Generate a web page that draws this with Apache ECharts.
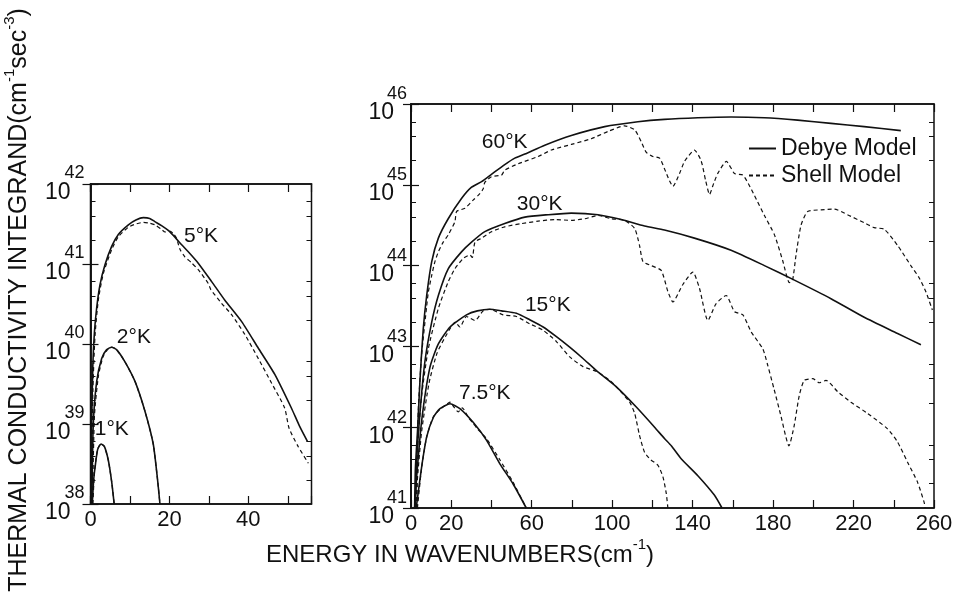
<!DOCTYPE html>
<html><head><meta charset="utf-8">
<script src="https://cdn.jsdelivr.net/npm/echarts@6/dist/echarts.min.js"></script>
<style>html,body{margin:0;padding:0;background:#fff}#c{width:957px;height:602px}</style>
</head><body><div id="c"></div>
<script>
// ---- DATA: [wavenumber (cm^-1), log10(integrand)] ----
// Left panel (low temperatures)
const debye5K = [[0.1,38.0],[0.3,39.0],[0.6,39.75],[1.0,40.15],[1.56,40.45],[2.4,40.74],[3.67,40.99],[5.36,41.22],[7.05,41.37],[9.6,41.49],[11.5,41.55],[13.4,41.58],[15,41.57],[16.3,41.53],[18,41.48],[19.7,41.42],[21.5,41.33],[23.1,41.24],[25,41.14],[27.3,41.01],[30.7,40.78],[34,40.55],[38.3,40.28],[42.5,39.95],[46.7,39.62],[50.9,39.2],[53,38.97],[55,38.78]];
const shell5K = [[0.3,38.0],[0.6,39.4],[1.14,40.1],[1.98,40.55],[3.25,40.88],[5.36,41.18],[7.05,41.34],[9.6,41.46],[11.5,41.5],[13.4,41.52],[15,41.51],[16.3,41.49],[17.8,41.44],[18.9,41.4],[20.1,41.41],[21.0,41.38],[21.8,41.32],[22.7,41.18],[23.9,41.09],[25.5,41.02],[27.3,40.93],[29.8,40.76],[30.5,40.68],[33.2,40.51],[35.7,40.37],[39.1,40.12],[42.5,39.82],[45.9,39.51],[49.2,39.2],[50.3,38.95],[52.6,38.72],[55.2,38.51]];
const debye2K = [[0.35,38.0],[0.7,38.99],[1.56,39.53],[2.83,39.82],[4.1,39.93],[5.36,39.96],[6.6,39.93],[8.7,39.78],[11.3,39.53],[13.8,39.16],[15.9,38.75],[17.0,38.3],[17.6,38.0]];
const shell2K = [[0.5,38.0],[1.0,39.1],[2.0,39.6],[3.25,39.85],[4.5,39.94],[5.36,39.96],[6.6,39.93],[8.7,39.78],[11.3,39.53],[13.8,39.16],[15.9,38.75],[17.0,38.3],[17.6,38.0]];
const debye1K = [[0.45,38.0],[0.8,38.3],[1.14,38.45],[1.8,38.68],[2.66,38.75],[3.5,38.72],[4.5,38.55],[5.36,38.28],[6.0,38.0]];
const shell1K = [[0.6,38.0],[1.0,38.4],[1.5,38.6],[2.0,38.71],[2.66,38.75],[3.5,38.72],[4.5,38.55],[5.36,38.28],[6.0,38.0]];
// Right panel (higher temperatures)
const debye60K = [[1.8,41.0],[2.2,41.5],[3.3,41.98],[4.5,42.6],[6.1,43.22],[7.8,43.63],[10.3,44.05],[13.6,44.34],[18.5,44.58],[25.1,44.83],[30.1,44.97],[35.1,45.04],[40,45.13],[46.6,45.25],[51.6,45.33],[56.6,45.38],[66.5,45.49],[79.7,45.61],[96.3,45.72],[112.8,45.78],[126,45.81],[142.6,45.83],[159.1,45.84],[175.7,45.83],[192.2,45.8],[208.8,45.76],[225.3,45.72],[243.5,45.67]];
const shell60K = [[2.5,41.0],[3.6,42.2],[5.3,42.9],[7.8,43.5],[8.6,43.67],[10.3,43.88],[11.9,44.05],[13.6,44.17],[16,44.29],[18.5,44.38],[21.8,44.54],[22.7,44.67],[26.8,44.71],[30.9,44.81],[34.2,44.89],[35.9,44.95],[36.7,45.03],[40,45.1],[45,45.12],[46.6,45.18],[53.3,45.26],[63.2,45.35],[69.8,45.43],[79.7,45.5],[89.6,45.57],[97.9,45.66],[106.2,45.73],[111.2,45.68],[114.5,45.53],[117,45.4],[120.2,45.35],[123.6,45.33],[126,45.2],[128.5,45.05],[130.2,44.98],[133.5,45.14],[136,45.29],[140.9,45.43],[144.2,45.3],[146.5,45.05],[148.4,44.88],[150.5,45.02],[152.5,45.14],[156.8,45.29],[160.8,45.14],[165,45.12],[168,45.0],[170.7,44.87],[175.7,44.62],[180.7,44.38],[184.8,44.06],[188.1,43.79],[189.7,43.82],[191.4,44.13],[193.9,44.5],[197.2,44.67],[203.8,44.69],[210.4,44.7],[217,44.63],[225.3,44.53],[230.3,44.47],[235.3,44.45],[241.9,44.25],[248.5,44.0],[252.6,43.85],[255.9,43.68],[259.2,43.45]];
const debye30K = [[2.2,41.0],[2.8,41.57],[4.5,42.19],[6.9,42.81],[10.3,43.3],[13.6,43.63],[18.5,43.96],[25.1,44.17],[30.1,44.29],[36.7,44.42],[46.6,44.52],[56.6,44.6],[68.2,44.63],[79.7,44.65],[93,44.63],[104.5,44.57],[116.1,44.49],[126,44.44],[140.9,44.34],[159.1,44.19],[175.7,44.0],[190.6,43.82],[208.8,43.59],[225.3,43.36],[241.9,43.16],[253.5,43.02]];
const shell30K = [[3.0,41.0],[3.3,41.77],[5.3,42.39],[8.6,42.97],[13.6,43.47],[18.5,43.8],[21.8,43.96],[26,44.09],[29.3,44.13],[30.5,44.1],[31.8,44.29],[35.1,44.34],[40,44.42],[46.6,44.48],[54.9,44.52],[63.2,44.55],[71.5,44.57],[79.7,44.56],[86.4,44.58],[93,44.62],[99.6,44.58],[106.2,44.56],[111.2,44.46],[113.6,44.25],[115.3,44.05],[119.4,44.0],[124.4,43.94],[127.7,43.68],[130.2,43.55],[135,43.76],[140.1,43.92],[143.4,43.72],[147.6,43.32],[151.7,43.53],[156.7,43.63],[160.8,43.43],[165,43.39],[169.1,43.18],[174.9,42.97],[177.3,42.77],[180.4,42.48],[183.8,42.15],[187.9,41.77],[190.5,42.02],[193,42.39],[195.5,42.58],[199.7,42.6],[203,42.55],[206.3,42.58],[212.1,42.44],[218.7,42.31],[227,42.17],[236.9,41.98],[241.8,41.82],[246.8,41.57],[251.8,41.32],[255.1,41.07],[255.6,41.0]];
const debye15K = [[1.8,41.0],[2.8,41.38],[5.3,42.08],[9.4,42.74],[13.6,43.03],[19.4,43.24],[27.6,43.39],[33,43.44],[39.2,43.46],[45,43.44],[52.4,43.41],[59,43.33],[65.7,43.24],[72.3,43.12],[78.9,42.99],[85.5,42.85],[92.2,42.7],[102.1,42.5],[112,42.25],[121.1,42.0],[126,41.86],[129.4,41.77],[134.3,41.61],[142.6,41.4],[150.8,41.16],[154.6,41.0]];
const shell15K = [[2.3,41.0],[3.0,41.3],[5.3,41.95],[9,42.55],[13,42.92],[18,43.16],[22,43.3],[24.3,43.24],[27.6,43.37],[31.8,43.32],[35.9,43.44],[39.2,43.46],[45.8,43.39],[52.4,43.37],[59,43.28],[65.7,43.2],[72.3,43.06],[78.9,42.87],[85.5,42.75],[92.2,42.69],[98.8,42.58],[102.1,42.5],[108.7,42.31],[111.2,42.17],[113.6,41.9],[116.1,41.69],[119,41.6],[122.7,41.53],[125.2,41.39],[126.9,41.18],[127.7,41.0]];
const debye7K5 = [[2.6,41.0],[5.3,41.51],[7.8,41.88],[11.1,42.12],[14.4,42.23],[19.4,42.29],[24.3,42.23],[30.9,42.06],[37.5,41.84],[44.1,41.55],[50.7,41.3],[57.3,41.0]];
const shell7K5 = [[3.2,41.0],[5.3,41.5],[7.8,41.88],[11.1,42.13],[14.4,42.22],[17,42.27],[19.4,42.31],[21,42.26],[23.5,42.19],[25.5,42.24],[28.5,42.12],[30.9,42.05],[33,41.98],[37.5,41.86],[44.1,41.6],[50.7,41.32],[57.3,41.0]];

const legendNames = ['Debye Model', 'Shell Model'];
const leftXLabels = [0, 20, 40];
const rightXLabels = [0, 20, 60, 100, 140, 180, 220, 260];
const minorMantissas = [2, 4, 6];

// ---- CHART ----
const FONT = 'Liberation Sans';
const INK = '#111';
const toData = pts => pts.map(p => [p[0], Math.pow(10, p[1])]);
function minorTicks(lo, hi) {
  const out = [];
  for (let n = lo; n < hi; n++) minorMantissas.forEach(m => out.push(m * Math.pow(10, n)));
  return out;
}
function mk(name, pts, xi, yi, dashed, label, at) {
  const s = {
    type: 'line', name, xAxisIndex: xi, yAxisIndex: yi, data: toData(pts),
    symbol: 'none', showSymbol: false, smooth: 0.2, silent: true,
    lineStyle: { color: INK, width: dashed ? 1.2 : 1.6, type: dashed ? [4, 3] : 'solid' },
    itemStyle: { color: INK }, z: dashed ? 3 : 2
  };
  if (label) {
    s.markPoint = {
      silent: true, symbol: 'circle', symbolSize: 1, itemStyle: { color: 'rgba(0,0,0,0)' },
      label: { show: true, position: 'inside', formatter: label, color: INK, fontSize: 21, fontFamily: FONT },
      data: [{ coord: [at[0], Math.pow(10, at[1])] }]
    };
  }
  return s;
}
const yLab = (padR, margin, padTop) => ({
  show: true, margin: margin, align: 'right',
  formatter: v => '{e|' + Math.round(Math.log10(v)) + '}\n{b|10}',
  rich: {
    e: { fontSize: 18, lineHeight: 18, fontFamily: FONT, color: INK, align: 'right', padding: [padTop, 0, 0, 0] },
    b: { fontSize: 23, lineHeight: 22, fontFamily: FONT, color: INK, align: 'right', padding: [0, padR, 0, 0] }
  }
});
const axLine = { show: true, lineStyle: { color: INK, width: 1.5 } };
function yAxisDef(grid, lo, hi, pos, kind, padR, margin, padTop) {
  const major = kind === 'major';
  return {
    type: 'log', logBase: 10, gridIndex: grid, position: pos, min: Math.pow(10, lo), max: Math.pow(10, hi),
    splitNumber: hi - lo,
    axisLine: major ? axLine : { show: false },
    axisTick: major ? { show: true, inside: true, length: 8, lineStyle: { color: INK, width: 1.2 } }
                    : { show: true, inside: true, length: 5, customValues: minorTicks(lo, hi), lineStyle: { color: INK, width: 1 } },
    axisLabel: (major && pos === 'left') ? yLab(padR, margin, padTop) : { show: false },
    splitLine: { show: false }, minorTick: { show: false }
  };
}
function xAxisDef(grid, max, interval, pos, labels) {
  return {
    type: 'value', gridIndex: grid, position: pos, min: 0, max: max, interval: interval,
    axisLine: axLine,
    axisTick: { show: true, inside: true, length: 8, lineStyle: { color: INK, width: 1.2 } },
    axisLabel: labels ? { show: true, margin: 5, fontSize: 22, fontFamily: FONT, color: INK,
                          formatter: v => labels.indexOf(v) >= 0 ? String(v) : '' } : { show: false },
    splitLine: { show: false }
  };
}

const option = {
  animation: false,
  backgroundColor: '#fff',
  grid: [
    { left: 90.5, top: 184, width: 221, height: 320, show: true, borderColor: INK, borderWidth: 1.5 },
    { left: 411, top: 104, width: 523, height: 404, show: true, borderColor: INK, borderWidth: 1.5 }
  ],
  xAxis: [
    xAxisDef(0, 56, 10, 'bottom', leftXLabels),
    xAxisDef(0, 56, 10, 'top', null),
    xAxisDef(1, 260, 20, 'bottom', rightXLabels),
    xAxisDef(1, 260, 20, 'top', null)
  ],
  yAxis: [
    yAxisDef(0, 38, 42, 'left', 'major', 14, 6, 0),
    yAxisDef(0, 38, 42, 'right', 'major'),
    yAxisDef(0, 38, 42, 'left', 'minor'),
    yAxisDef(0, 38, 42, 'right', 'minor'),
    yAxisDef(1, 41, 46, 'left', 'major', 13, 4, 3),
    yAxisDef(1, 41, 46, 'right', 'major'),
    yAxisDef(1, 41, 46, 'left', 'minor'),
    yAxisDef(1, 41, 46, 'right', 'minor')
  ],
  legend: {
    data: legendNames, orient: 'vertical', left: 743, top: 131, padding: 5,
    itemWidth: 27, itemHeight: 2, itemGap: 2,
    itemStyle: { color: 'rgba(0,0,0,0)', borderWidth: 0 },
    textStyle: { fontSize: 23, fontFamily: FONT, color: INK, lineHeight: 25 }, selectedMode: false
  },
  graphic: [
    { type: 'text', x: 460, y: 552, silent: true, style: {
        text: '{a|ENERGY IN WAVENUMBERS(cm}{s|-1}{a|)}', align: 'center', verticalAlign: 'middle', fill: INK,
        rich: { a: { fontSize: 24, lineHeight: 30, fontFamily: FONT, fill: INK, verticalAlign: 'bottom' },
                s: { fontSize: 15, lineHeight: 16, fontFamily: FONT, fill: INK, verticalAlign: 'top' } } } },
    { type: 'text', x: 17, y: 300, rotation: Math.PI / 2, silent: true, style: {
        text: '{a|THERMAL CONDUCTIVITY INTEGRAND(cm}{s|-1}{a|sec}{s|-3}{a|)}', align: 'center', verticalAlign: 'middle', fill: INK,
        rich: { a: { fontSize: 25, lineHeight: 30, fontFamily: FONT, fill: INK, verticalAlign: 'bottom' },
                s: { fontSize: 15, lineHeight: 16, fontFamily: FONT, fill: INK, verticalAlign: 'top' } } } }
  ],
  series: [
    mk('Debye Model', debye5K, 0, 0, false, '5°K', [28, 41.35]),
    mk('Shell Model', shell5K, 0, 0, true),
    mk('Debye Model', debye2K, 0, 0, false, '2°K', [11, 40.09]),
    mk('Shell Model', shell2K, 0, 0, true),
    mk('Debye Model', debye1K, 0, 0, false, '1°K', [5.4, 38.93]),
    mk('Shell Model', shell1K, 0, 0, true),
    mk('Debye Model', debye60K, 2, 4, false, '60°K', [46.6, 45.53]),
    mk('Shell Model', shell60K, 2, 4, true),
    mk('Debye Model', debye30K, 2, 4, false, '30°K', [64, 44.76]),
    mk('Shell Model', shell30K, 2, 4, true),
    mk('Debye Model', debye15K, 2, 4, false, '15°K', [68, 43.51]),
    mk('Shell Model', shell15K, 2, 4, true),
    mk('Debye Model', debye7K5, 2, 4, false, '7.5°K', [36.7, 42.42]),
    mk('Shell Model', shell7K5, 2, 4, true)
  ]
};
const chart = echarts.init(document.getElementById('c'), null, { renderer: 'canvas' });
chart.setOption(option);
</script></body></html>
